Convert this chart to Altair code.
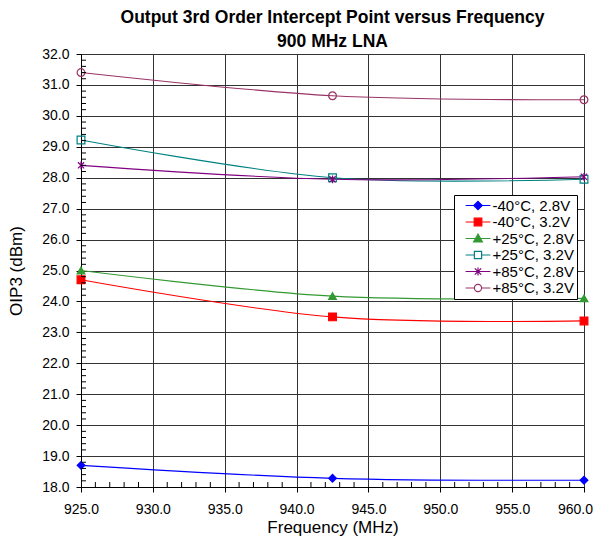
import altair as alt
import pandas as pd

# ---- data ----
freq = [925.0, 942.5, 960.0]
series = ["-40°C, 2.8V", "-40°C, 3.2V", "+25°C, 2.8V",
          "+25°C, 3.2V", "+85°C, 2.8V", "+85°C, 3.2V"]
m40_28 = [18.70, 18.28, 18.22]
m40_32 = [24.70, 23.50, 23.37]
p25_28 = [25.00, 24.17, 24.10]
p25_32 = [29.22, 28.00, 27.95]
p85_28 = [28.40, 27.95, 28.03]
p85_32 = [31.40, 30.65, 30.52]
values = [m40_28, m40_32, p25_28, p25_32, p85_28, p85_32]

x_ticks = [925.0, 930.0, 935.0, 940.0, 945.0, 950.0, 955.0, 960.0]
y_ticks = [18.0, 19.0, 20.0, 21.0, 22.0, 23.0, 24.0, 25.0, 26.0, 27.0,
           28.0, 29.0, 30.0, 31.0, 32.0]
x_minor = [v for v in range(926, 960) if v % 5 != 0]
y_minor = [round(18 + i * 0.2, 1) for i in range(1, 70) if i % 5 != 0]

# ---- styles ----
colors = ["#0000FF", "#FF0000", "#339933", "#008080", "#800080", "#993366"]
fills = ["#0000FF", "#FF0000", "#339933", "transparent", "transparent", "transparent"]
leg_fills = ["#0000FF", "#FF0000", "#339933", "white", "transparent", "white"]
ASTER = "M0,-1L0,1M-0.8,-0.8L0.8,0.8M-0.8,0.8L0.8,-0.8"
plot_shapes = ["diamond", "square", "triangle-up", "square", ASTER, "circle"]
legend_shapes = [
    "M-3.1,0L3.1,0M0,-1.05L1.05,0L0,1.05L-1.05,0Z",
    "M-3.1,0L3.1,0M-0.95,-0.95L0.95,-0.95L0.95,0.95L-0.95,0.95Z",
    "M-3.1,0L3.1,0M0,-1.1L1.1,0.85L-1.1,0.85Z",
    "M-3.1,0L-0.9,0M0.9,0L3.1,0M-0.9,-0.9L0.9,-0.9L0.9,0.9L-0.9,0.9Z",
    "M-3.1,0L3.1,0M0,-1L0,1M-0.8,-0.8L0.8,0.8M-0.8,0.8L0.8,-0.8",
    "M-3.1,0L-0.9,0M0.9,0L3.1,0M0.9,0A0.9,0.9,0,1,1,-0.9,0A0.9,0.9,0,1,1,0.9,0Z",
]

rows = []
for s, vals in zip(series, values):
    for f, v in zip(freq, vals):
        rows.append({"Series": s, "Freq": f, "OIP3": v})
df = pd.DataFrame(rows)

FONT = "Liberation Sans"
W, H = 503, 433

xs = alt.Scale(domain=[925, 960], nice=False, zero=False)
ys = alt.Scale(domain=[18, 32], nice=False, zero=False)

x_axis = alt.Axis(values=x_ticks, format=".1f", grid=True, tickSize=5,
                  labelPadding=10, titlePadding=3, labelFlush=False,
                  labelOverlap=False,
                  labelOffset={"condition": {"test": "datum.value >= 960", "value": -9},
                               "value": 0})
y_axis = alt.Axis(values=y_ticks, format=".1f", grid=True, tickSize=5,
                  labelPadding=7, titlePadding=16, labelFlush=False,
                  labelOverlap=False)

base = alt.Chart(df)

lines = base.mark_line(interpolate="cardinal", strokeWidth=1.1).encode(
    x=alt.X("Freq:Q", scale=xs, title="Frequency (MHz)", axis=x_axis),
    y=alt.Y("OIP3:Q", scale=ys, title="OIP3 (dBm)", axis=y_axis),
    color=alt.Color("Series:N", scale=alt.Scale(domain=series, range=colors), legend=None),
    detail="Series:N",
)

points = base.mark_point(filled=False, strokeWidth=1.2, size=60, opacity=1).encode(
    x=alt.X("Freq:Q", scale=xs, title="Frequency (MHz)", axis=x_axis),
    y=alt.Y("OIP3:Q", scale=ys, title="OIP3 (dBm)", axis=y_axis),
    color=alt.Color("Series:N", scale=alt.Scale(domain=series, range=colors), legend=None),
    fill=alt.Fill("Series:N", scale=alt.Scale(domain=series, range=fills), legend=None),
    shape=alt.Shape("Series:N", scale=alt.Scale(domain=series, range=plot_shapes), legend=None),
)

leg = alt.Legend(title=None, orient="none", legendX=373, legendY=141,
                 strokeColor="black", fillColor="white", padding=3,
                 labelFont=FONT, labelFontSize=15, labelColor="black",
                 symbolSize=64, symbolOffset=13.5, labelOffset=7,
                 symbolStrokeWidth=1.2, rowPadding=0.5)

legend_layer = base.transform_filter("false").mark_point(filled=False, opacity=1).encode(
    x=alt.X("Freq:Q", scale=xs, title="Frequency (MHz)", axis=x_axis),
    y=alt.Y("OIP3:Q", scale=ys, title="OIP3 (dBm)", axis=y_axis),
    color=alt.Color("Series:N", scale=alt.Scale(domain=series, range=colors), legend=leg),
    fill=alt.Fill("Series:N", scale=alt.Scale(domain=series, range=leg_fills), legend=leg),
    shape=alt.Shape("Series:N", scale=alt.Scale(domain=series, range=legend_shapes), legend=leg),
)

xminor = alt.Chart(pd.DataFrame({"Freq": x_minor})).mark_rule(color="black", strokeWidth=1).encode(
    x=alt.X("Freq:Q", scale=xs, title="Frequency (MHz)", axis=x_axis),
    y=alt.value(H), y2=alt.value(H - 5))
yminor = alt.Chart(pd.DataFrame({"OIP3": y_minor})).mark_rule(color="black", strokeWidth=1).encode(
    y=alt.Y("OIP3:Q", scale=ys, title="OIP3 (dBm)", axis=y_axis),
    x=alt.value(0), x2=alt.value(5))

chart = alt.layer(lines, points, xminor, yminor, legend_layer).resolve_scale(
    color="independent", fill="independent", shape="independent"
).properties(
    width=W, height=H,
    autosize="none",
    padding={"left": 73, "top": 46, "right": 9, "bottom": 50},
    title=alt.TitleParams(["Output 3rd Order Intercept Point versus Frequency", "900 MHz LNA"],
                          font=FONT, fontSize=17.5, fontWeight="bold", color="black",
                          anchor="middle", offset=-3, lineHeight=24),
).configure_view(stroke="black", strokeWidth=1).configure_axis(
    labelFont=FONT, labelFontSize=14, labelColor="black",
    titleFont=FONT, titleFontSize=17, titleFontWeight="normal", titleColor="black",
    domainColor="black", tickColor="black", gridColor="#333333", gridOpacity=1,
    gridWidth=1, labelOverlap=False, labelFlush=False, labelBound=False,
)

chart.save("out.html", embed_options={"renderer": "svg", "actions": False})
